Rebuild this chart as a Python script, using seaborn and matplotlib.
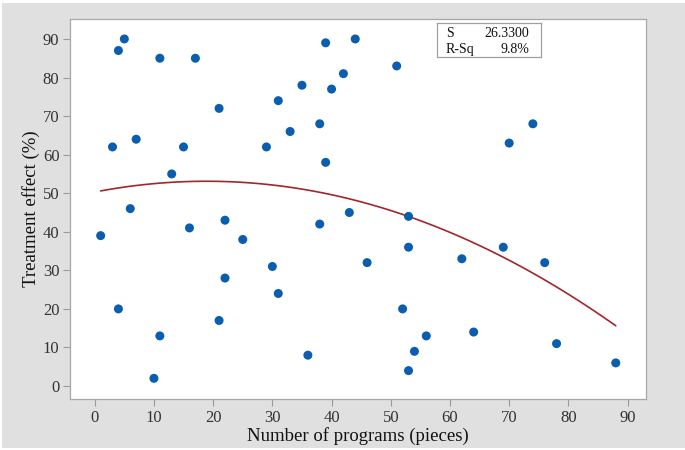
import numpy as np
import pandas as pd
import matplotlib
matplotlib.use("Agg")
import matplotlib.pyplot as plt
from matplotlib.patches import Rectangle
import seaborn as sns

programs = [1, 3, 4, 5, 4, 6, 7, 10, 11, 11, 13, 15, 16, 17, 21, 21, 22, 22, 25,
            29, 30, 31, 31, 33, 35, 36, 38, 38, 39, 39, 40, 42, 43, 44, 46, 51,
            52, 53, 53, 53, 54, 56, 62, 64, 69, 70, 74, 76, 78, 88]
effect = [39, 62, 87, 90, 20, 46, 64, 2, 13, 85, 55, 62, 41, 85, 72, 17, 43, 28, 38,
          62, 31, 74, 24, 66, 78, 8, 68, 42, 89, 58, 77, 81, 45, 90, 32, 83,
          20, 44, 36, 4, 9, 13, 33, 14, 36, 63, 68, 32, 11, 6]
x_ticks = [0, 10, 20, 30, 40, 50, 60, 70, 80, 90]
y_ticks = [0, 10, 20, 30, 40, 50, 60, 70, 80, 90]
stat_names = ["S", "R-Sq"]
stat_values = ["26.3300", "9.8%"]

df = pd.DataFrame({"programs": programs, "effect": effect})

sns.set_style("white")
SERIF = ["Liberation Serif", "DejaVu Serif"]
plt.rcParams["font.family"] = SERIF
plt.rcParams["font.serif"] = SERIF

bg = "#dfe0df"
fig = plt.figure(figsize=(6.85, 4.5), dpi=100, facecolor=bg)
fig.patches.append(Rectangle((0, 0), 1, 2/450, transform=fig.transFigure,
                             facecolor="white", edgecolor="none", zorder=-1))
fig.patches.append(Rectangle((0, 1-3/450), 1, 3/450, transform=fig.transFigure,
                             facecolor="white", edgecolor="none", zorder=-1))
fig.patches.append(Rectangle((0, 0), 2/685, 1, transform=fig.transFigure,
                             facecolor="white", edgecolor="none", zorder=-1))

ax = fig.add_axes([0.102, 0.113, 0.841, 0.845])
ax.set_facecolor("white")

sns.regplot(data=df, x="programs", y="effect", order=2, ci=None, scatter=False,
            line_kws={"color": "#a3262a", "lw": 1.2}, ax=ax)
sns.scatterplot(data=df, x="programs", y="effect", color="#0b5db0", s=42,
                edgecolor="none", ax=ax, zorder=3)

ax.set_xlim(-4.2, 93.1)
ax.set_ylim(-3.4, 95.2)
ax.set_xticks(x_ticks)
ax.set_yticks(y_ticks)
ax.set_xticklabels([str(t) for t in x_ticks], fontfamily=SERIF)
ax.set_yticklabels([str(t) for t in y_ticks], fontfamily=SERIF)
ax.tick_params(axis="both", which="both", direction="out", length=5, width=0.8,
               color="#9a9a9a", labelsize=12, labelcolor="#333333", pad=2.5,
               bottom=True, left=True, top=False, right=False)
for sp in ax.spines.values():
    sp.set_color("#a8a8a8")
    sp.set_linewidth(0.9)

ax.set_xlabel("Number of programs (pieces)", fontsize=13.5, color="#111111",
              labelpad=1, fontfamily=SERIF)
ax.set_ylabel("Treatment effect (%)", fontsize=13.5, color="#111111",
              labelpad=2, fontfamily=SERIF)

box_ax = fig.add_axes([437/685, 1-57/450, (541-437)/685, (57-23)/450])
box_ax.set_xticks([]); box_ax.set_yticks([])
box_ax.set_facecolor("white")
for sp in box_ax.spines.values():
    sp.set_color("#a0a0a0"); sp.set_linewidth(0.9)
for i, (n, v) in enumerate(zip(stat_names, stat_values)):
    yy = 0.69 - i * 0.47
    box_ax.text(0.085, yy, n, fontsize=10, va="center", ha="left",
                color="#111111", fontfamily=SERIF)
    box_ax.text(0.885, yy, v, fontsize=10, va="center", ha="right",
                color="#111111", fontfamily=SERIF)

fig.savefig("out.png", dpi=100, facecolor=bg)
